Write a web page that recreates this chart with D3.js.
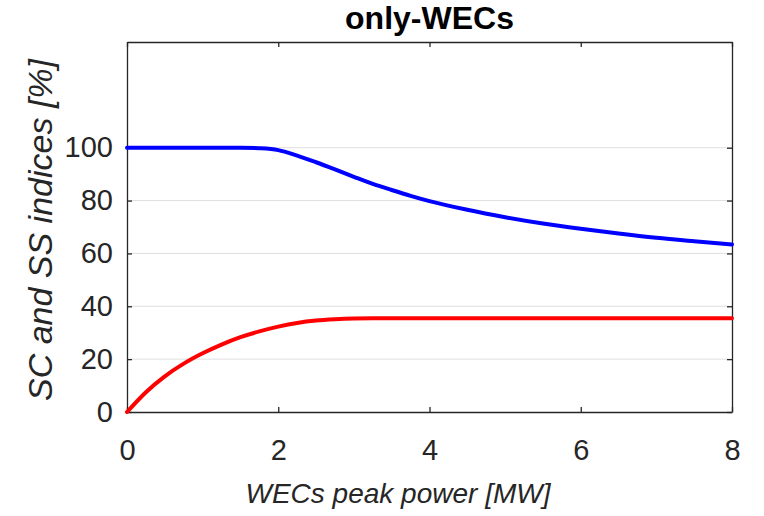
<!DOCTYPE html>
<html>
<head>
<meta charset="utf-8">
<script src="https://cdn.jsdelivr.net/npm/d3@7"></script>
<style>
  body { margin: 0; background: #fff; }
  svg text { font-family: "Liberation Sans", Arial, sans-serif; fill: #262626; }
</style>
</head>
<body>
<svg id="myGraph" width="764" height="516"></svg>
<script>
// WECs peak power [MW]
var power = [0, 0.25, 0.5, 0.75, 1, 1.25, 1.5, 1.75, 2, 2.25, 2.5, 2.75, 3, 3.25, 3.5, 3.75, 4, 4.5, 5, 5.5, 6, 6.5, 7, 7.5, 8];
// SS index (blue)
var ssValues = [100, 100, 100, 100, 100, 100, 100, 99.8, 99.1, 97, 94.5, 91.8, 89, 86.3, 84, 81.8, 79.8, 76.5, 73.7, 71.3, 69.3, 67.5, 65.9, 64.6, 63.4];
// SC index (red)
var scValues = [0, 7.5, 13.5, 18.3, 22.2, 25.5, 28.3, 30.5, 32.3, 33.7, 34.6, 35.1, 35.4, 35.5, 35.5, 35.5, 35.5, 35.5, 35.5, 35.5, 35.5, 35.5, 35.5, 35.5, 35.5];
var xTicks = [0, 2, 4, 6, 8];
var yTicks = [0, 20, 40, 60, 80, 100];

var svg = d3.select("#myGraph");
var plotLeft = 127, plotRight = 732, plotTop = 42, plotBottom = 412;

var x = d3.scaleLinear().domain([0, 8]).range([plotLeft, plotRight]);
var y = d3.scaleLinear().domain([0, 140]).range([plotBottom, plotTop]);

//그리드
svg.append("g")
   .selectAll("line")
   .data(yTicks.slice(1))
   .enter()
   .append("line")
   .attr("x1", plotLeft).attr("x2", plotRight)
   .attr("y1", function(d){ return y(d); })
   .attr("y2", function(d){ return y(d); })
   .attr("stroke", "#dfdfdf")
   .attr("stroke-width", 1);

//축
function styleAxis(g){
  g.selectAll("path").attr("stroke", "#262626").attr("stroke-width", 1.3);
  g.selectAll("line").attr("stroke", "#262626").attr("stroke-width", 1.3);
}
var xAxis = svg.append("g")
   .attr("transform", "translate(0," + plotBottom + ")")
   .call(d3.axisBottom(x).tickValues(xTicks).tickSizeInner(-5).tickSizeOuter(0).tickPadding(27).tickFormat(d3.format("d")));
styleAxis(xAxis);
xAxis.attr("font-size", 29).attr("font-family", null);
xAxis.selectAll("text").attr("fill", "#262626");

var yAxis = svg.append("g")
   .attr("transform", "translate(" + plotLeft + ",0)")
   .call(d3.axisLeft(y).tickValues(yTicks).tickSizeInner(-5).tickSizeOuter(0).tickPadding(14).tickFormat(d3.format("d")));
styleAxis(yAxis);
yAxis.attr("font-size", 29).attr("font-family", null);
yAxis.selectAll("text").attr("fill", "#262626");

var xTop = svg.append("g")
   .attr("transform", "translate(0," + plotTop + ")")
   .call(d3.axisTop(x).tickValues(xTicks).tickSizeInner(-5).tickSizeOuter(0).tickFormat(""));
styleAxis(xTop);

var yRight = svg.append("g")
   .attr("transform", "translate(" + plotRight + ",0)")
   .call(d3.axisRight(y).tickValues(yTicks).tickSizeInner(-5).tickSizeOuter(0).tickFormat(""));
styleAxis(yRight);

//선
var line = d3.line()
   .x(function(d, i){ return x(power[i]); })
   .y(function(d){ return y(d); })
   .curve(d3.curveMonotoneX);

svg.append("path")
   .datum(ssValues)
   .attr("d", line)
   .attr("fill", "none")
   .attr("stroke", "#0000ff")
   .attr("stroke-width", 4)
   .attr("stroke-linecap", "round");

svg.append("path")
   .datum(scValues)
   .attr("d", line)
   .attr("fill", "none")
   .attr("stroke", "#ff0000")
   .attr("stroke-width", 4)
   .attr("stroke-linecap", "round");

//제목, 축 이름
svg.append("text")
   .attr("x", (plotLeft + plotRight) / 2)
   .attr("y", 29)
   .attr("text-anchor", "middle")
   .attr("font-size", 32)
   .attr("font-weight", "bold")
   .style("fill", "#000")
   .text("only-WECs");

svg.append("text")
   .attr("x", 398)
   .attr("y", 503)
   .attr("text-anchor", "middle")
   .attr("font-size", 28)
   .attr("font-style", "italic")
   .text("WECs peak power [MW]");

svg.append("text")
   .attr("transform", "translate(52," + 230 + ") rotate(-90)")
   .attr("text-anchor", "middle")
   .attr("font-size", 34)
   .attr("font-style", "italic")
   .text("SC and SS indices [%]");
</script>
</body>
</html>
